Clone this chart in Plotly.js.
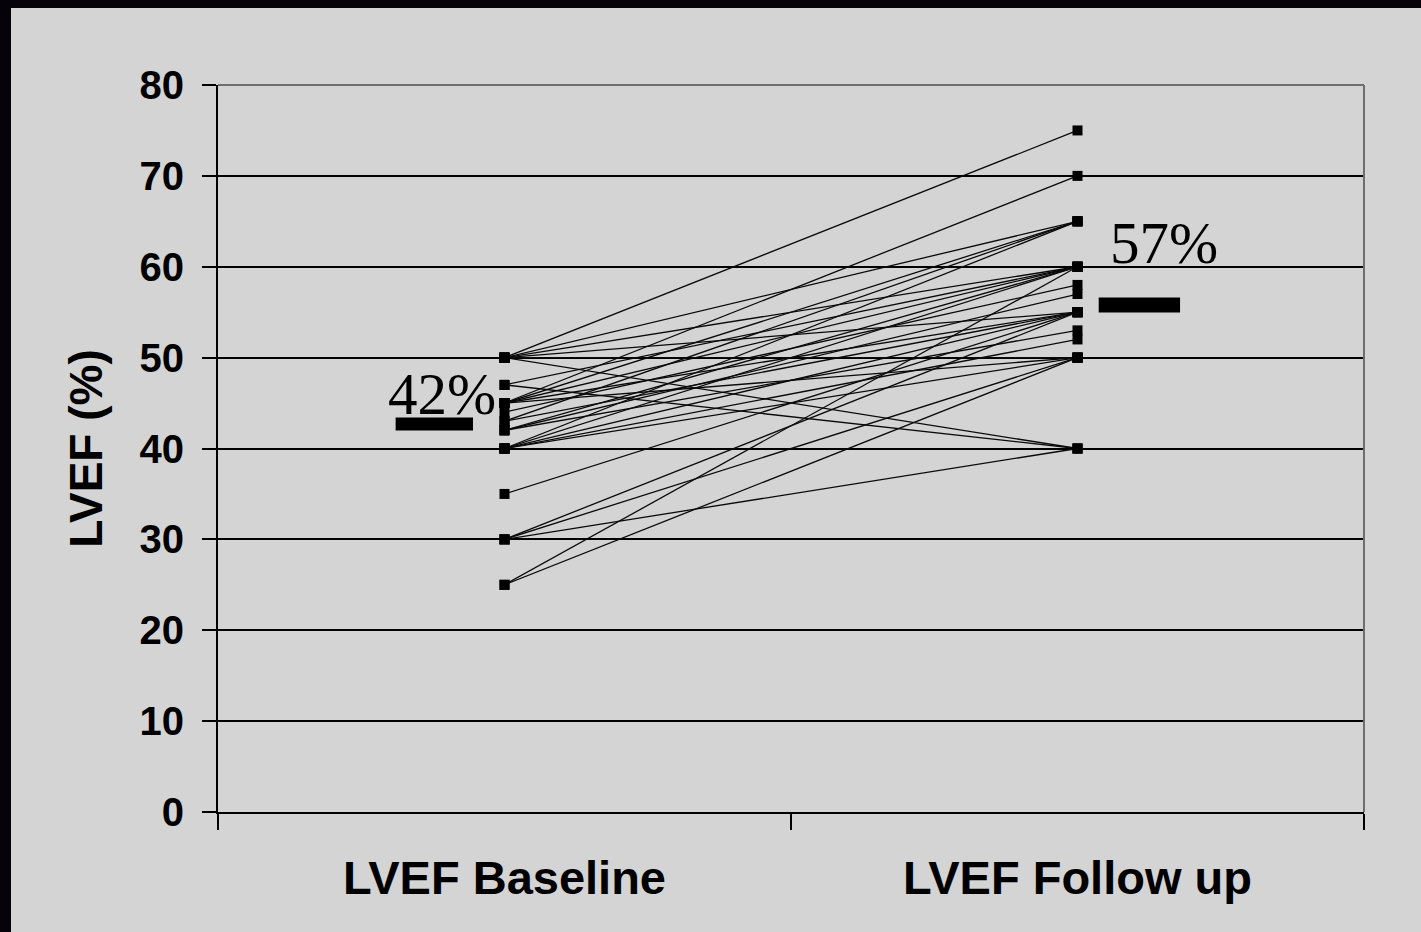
<!DOCTYPE html>
<html>
<head>
<meta charset="utf-8">
<script src="https://cdn.plot.ly/plotly-3.0.1.min.js"></script>
<style>
  html, body { margin: 0; padding: 0; background: #050309; width: 1421px; height: 932px; overflow: hidden; }
  #chart { position: absolute; left: 11px; top: 8px; width: 1410px; height: 924px; }
</style>
</head>
<body>
<div id="chart"></div>
<script>
// Categories
const categories = ["LVEF Baseline", "LVEF Follow up"];
// Per-patient LVEF (%) at baseline and at follow up (paired by index)
const baselineLVEF = [50, 50, 50, 50, 50, 50, 47, 47, 45, 45, 45, 45, 45, 44, 43, 43, 42, 42, 42, 40, 40, 40, 40, 40, 35, 30, 30, 30, 25, 25];
const followupLVEF = [75, 65, 60, 55, 50, 40, 40, 60, 70, 65, 60, 55, 50, 58, 65, 55, 57, 53, 60, 65, 60, 55, 52, 50, 55, 40, 50, 55, 60, 50];
// Group mean markers and their labels
const meanValues = [42.7, 55.8];
const meanLabels = ["42%", "57%"];
// y axis ticks
const yTicks = [0, 10, 20, 30, 40, 50, 60, 70, 80];

const traces = baselineLVEF.map((b, i) => ({
  type: "scatter",
  mode: "lines+markers",
  x: categories,
  y: [b, followupLVEF[i]],
  line: { color: "#0a0a0a", width: 1.3 },
  marker: { symbol: "square", size: 10, color: "#000000" },
  hoverinfo: "y",
  showlegend: false
}));

const sansFont = "Liberation Sans, Arial, sans-serif";
const serifFont = "Liberation Serif, Times New Roman, serif";

const shapes = [
  // gray frame top and right
  { type: "line", xref: "paper", yref: "paper", x0: 0, x1: 1, y0: 1, y1: 1, line: { color: "#6e6e6e", width: 2 }, layer: "above" },
  { type: "line", xref: "paper", yref: "paper", x0: 1, x1: 1, y0: 0, y1: 1, line: { color: "#6e6e6e", width: 2 }, layer: "above" },
  // mean bars
  { type: "line", xref: "x", yref: "y", x0: -0.19, x1: -0.055, y0: meanValues[0], y1: meanValues[0], line: { color: "#000000", width: 13 }, layer: "above" },
  { type: "line", xref: "x", yref: "y", x0: 1.037, x1: 1.179, y0: meanValues[1], y1: meanValues[1], line: { color: "#000000", width: 15 }, layer: "above" }
];

const annotations = [
  { x: -0.109, y: 46, xref: "x", yref: "y", text: meanLabels[0], showarrow: false, xanchor: "center", yanchor: "middle",
    font: { family: serifFont, size: 59, color: "#000000" } },
  { x: 1.151, y: 62.6, xref: "x", yref: "y", text: meanLabels[1], showarrow: false, xanchor: "center", yanchor: "middle",
    font: { family: serifFont, size: 59, color: "#000000" } }
];

const layout = {
  width: 1410,
  height: 924,
  margin: { l: 207, r: 57, t: 77, b: 120, pad: 0 },
  paper_bgcolor: "#d4d4d4",
  plot_bgcolor: "#d4d4d4",
  showlegend: false,
  xaxis: {
    type: "category",
    categoryorder: "array",
    categoryarray: categories,
    range: [-0.5, 1.5],
    tickson: "boundaries",
    ticks: "outside",
    ticklen: 16,
    tickwidth: 2,
    tickcolor: "#000000",
    showgrid: false,
    showline: true,
    linecolor: "#000000",
    linewidth: 2,
    zeroline: false,
    ticklabelstandoff: 24,
    tickfont: { family: sansFont, size: 47, color: "#000000", weight: "bold" },
    fixedrange: true
  },
  yaxis: {
    range: [0, 80],
    tickmode: "array",
    tickvals: yTicks,
    ticktext: yTicks.map(String),
    ticks: "outside",
    ticklen: 14,
    tickwidth: 2,
    tickcolor: "#000000",
    showgrid: true,
    gridcolor: "#000000",
    gridwidth: 2,
    showline: true,
    linecolor: "#000000",
    linewidth: 2,
    zeroline: false,
    ticklabelstandoff: 10,
    tickfont: { family: sansFont, size: 40, color: "#000000", weight: "bold" },
    title: { text: "LVEF (%)", font: { family: sansFont, size: 46, color: "#000000", weight: "bold" }, standoff: 22 },
    fixedrange: true
  },
  shapes: shapes,
  annotations: annotations
};

Plotly.newPlot("chart", traces, layout, { displayModeBar: false, staticPlot: true });
</script>
</body>
</html>
